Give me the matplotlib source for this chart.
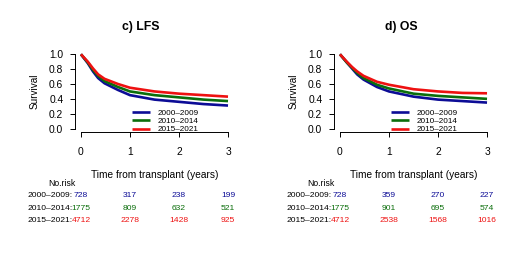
import matplotlib
matplotlib.use("Agg")
import matplotlib.pyplot as plt
from matplotlib.transforms import blended_transform_factory

plt.rcParams["font.family"] = ["Liberation Sans", "DejaVu Sans"]

# time grid (years) and survival readings
times = [0, 0.14, 0.245, 0.35, 0.48, 0.755, 1.0, 1.5, 2.0, 2.5, 3.0]

lfs_0009 = [1.0, 0.88, 0.77, 0.68, 0.61, 0.52, 0.45, 0.39, 0.36, 0.33, 0.31]
lfs_1014 = [1.0, 0.89, 0.79, 0.71, 0.64, 0.56, 0.50, 0.45, 0.42, 0.39, 0.37]
lfs_1521 = [1.0, 0.90, 0.81, 0.73, 0.67, 0.60, 0.55, 0.50, 0.47, 0.45, 0.43]

os_0009 = [1.0, 0.89, 0.81, 0.73, 0.66, 0.56, 0.50, 0.43, 0.39, 0.37, 0.35]
os_1014 = [1.0, 0.89, 0.82, 0.75, 0.68, 0.59, 0.54, 0.47, 0.44, 0.42, 0.40]
os_1521 = [1.0, 0.90, 0.83, 0.77, 0.71, 0.63, 0.59, 0.53, 0.50, 0.48, 0.475]

groups = ["2000\u20132009", "2010\u20132014", "2015\u20132021"]
colors = ["#0c0c96", "#0b6e0b", "#ee1111"]

risk_times = [0, 1, 2, 3]
lfs_risk = [[728, 317, 238, 199], [1775, 809, 632, 521], [4712, 2278, 1428, 925]]
os_risk = [[728, 359, 270, 227], [1775, 901, 695, 574], [4712, 2538, 1568, 1016]]

panels = [
    ("c) LFS", [lfs_0009, lfs_1014, lfs_1521], lfs_risk, 0.1444, 141),
    ("d) OS", [os_0009, os_1014, os_1521], os_risk, 0.6425, 401),
]

fig = plt.figure(figsize=(5.2, 2.62), dpi=100)

for title, curves, risk, left, title_x in panels:
    ax = fig.add_axes([left, 0.498, 0.3054, 0.306])
    for ys, col, lab in zip(curves, colors, groups):
        ax.plot(times, ys, color=col, lw=1.9, label=lab, solid_capstyle="butt")
    ax.set_xlim(-0.12, 3.12)
    ax.set_ylim(-0.04, 1.04)
    ax.spines["top"].set_visible(False)
    ax.spines["right"].set_visible(False)
    ax.spines["left"].set_bounds(0, 1)
    ax.spines["bottom"].set_bounds(0, 3)
    ax.spines["left"].set_linewidth(0.7)
    ax.spines["bottom"].set_linewidth(0.7)
    ax.set_xticks([0, 1, 2, 3])
    ax.set_yticks([0, 0.2, 0.4, 0.6, 0.8, 1.0])
    ax.set_yticklabels(["0.0", "0.2", "0.4", "0.6", "0.8", "1.0"])
    ax.tick_params(axis="y", length=3.5, width=0.7, labelsize=7.4, pad=5)
    ax.tick_params(axis="x", length=3.5, width=0.7, labelsize=7.4, pad=7.5)
    ax.set_ylabel("Survival", fontsize=7.2, labelpad=7)
    ax.set_xlabel("Time from transplant (years)", fontsize=7.3, labelpad=9.5)

    ax.legend(loc="lower left", bbox_to_anchor=(0.33, -0.075), frameon=False,
              fontsize=5.9, handlelength=2.2, handletextpad=1.0,
              labelspacing=0.08, borderpad=0)

    fig.text(title_x / 520, 1 - 27 / 262, title, fontsize=8.8,
             fontweight="bold", ha="center", va="center")

    # numbers at risk table
    tr = blended_transform_factory(ax.transData, fig.transFigure)
    fig.text(62 / 520 + (left - 0.1444), 1 - 183 / 262, "No.risk",
             fontsize=6.2, ha="center", va="center")
    row_y = [195.3, 208, 220.3]
    for row, col, lab, yy in zip(risk, colors, groups, row_y):
        fy = 1 - yy / 262
        ax.text(-0.165, fy, lab + ":", transform=tr, fontsize=6.1,
                ha="right", va="center", clip_on=False)
        for t, n in zip(risk_times, row):
            ax.text(t, fy, str(n), color=col, fontsize=6.1, ha="center",
                    va="center", clip_on=False, transform=tr)

fig.savefig("out.png", dpi=100)
